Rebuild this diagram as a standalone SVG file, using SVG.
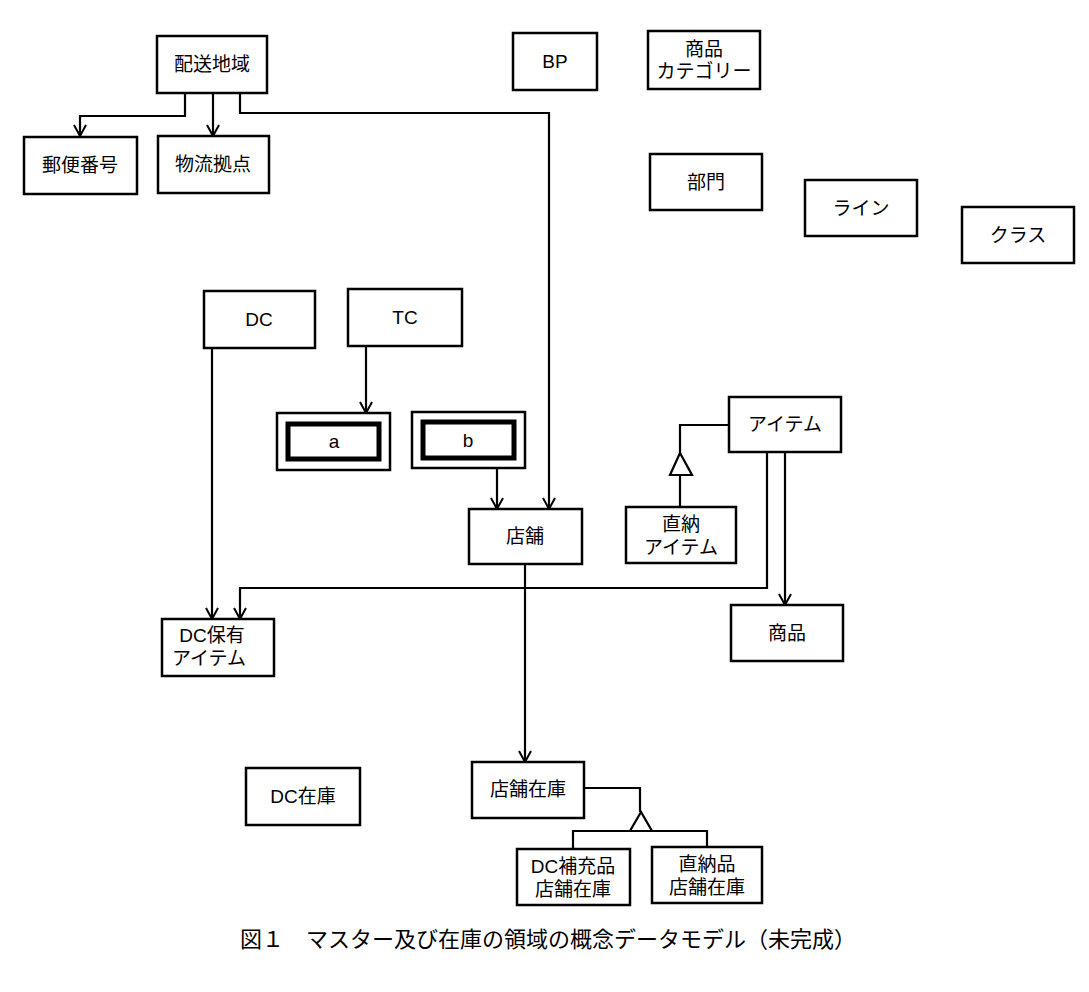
<svg xmlns="http://www.w3.org/2000/svg" width="1089" height="992" viewBox="0 0 1089 992">
<defs>
<marker id="ar" viewBox="0 0 14 14" refX="13" refY="7" markerWidth="14" markerHeight="14" markerUnits="userSpaceOnUse" orient="auto">
<path d="M2,1 L13,7 L2,13" fill="none" stroke="#000" stroke-width="2"/>
</marker>
</defs>
<style>
rect{fill:#fff;stroke:#000;stroke-width:2.5}
rect.in{stroke-width:5}
text{font-family:"Liberation Sans","Noto Sans CJK JP",sans-serif;font-size:19px;text-anchor:middle;fill:#000}
.c path,.c line{fill:none;stroke:#000;stroke-width:2.2}
.c polygon{fill:#fff;stroke:#000;stroke-width:2.2}
</style>
<rect width="1089" height="992" style="fill:#fff;stroke:none"/>
<g class="c">
<path d="M185,93 V116 H80 V136" marker-end="url(#ar)"/>
<path d="M213,93 V136" marker-end="url(#ar)"/>
<path d="M240,93 V113 H549 V509" marker-end="url(#ar)"/>
<path d="M366,346 V413" marker-end="url(#ar)"/>
<path d="M497,468 V509" marker-end="url(#ar)"/>
<path d="M212,348 V619" marker-end="url(#ar)"/>
<path d="M767,452 V588 H240 V619" marker-end="url(#ar)"/>
<path d="M785,452 V605" marker-end="url(#ar)"/>
<path d="M729,425 H680 V453"/>
<polygon points="680,453 670,475 692,475"/>
<path d="M680,475 V507"/>
<path d="M525,564 V762" marker-end="url(#ar)"/>
<path d="M584,788 H640 V812"/>
<polygon points="641,812 630,831 652,831"/>
<path d="M573,848 V831 H707 V848"/>
</g>
<g id="haiso"><rect x="157" y="36" width="110" height="57"/><text x="212" y="71">配送地域</text></g>
<g id="yubin"><rect x="24" y="137" width="113" height="57"/><text x="80" y="172">郵便番号</text></g>
<g id="butsuryu"><rect x="158" y="136" width="111" height="57"/><text x="213" y="171">物流拠点</text></g>
<g id="bp"><rect x="513" y="33" width="84" height="57"/><text x="555" y="68">BP</text></g>
<g id="cat"><rect x="648" y="31" width="112" height="58"/><text x="704" y="56">商品</text><text x="704" y="78">カテゴリー</text></g>
<g id="bumon"><rect x="650" y="154" width="112" height="56"/><text x="706" y="189">部門</text></g>
<g id="line"><rect x="805" y="180" width="112" height="56"/><text x="861" y="215">ライン</text></g>
<g id="class"><rect x="962" y="207" width="112" height="56"/><text x="1018" y="242">クラス</text></g>
<g id="dc"><rect x="204" y="291" width="111" height="57"/><text x="259" y="326">DC</text></g>
<g id="tc"><rect x="348" y="289" width="114" height="57"/><text x="405" y="324">TC</text></g>
<g id="a"><rect x="277" y="413" width="113" height="57"/><rect class="in" x="288" y="424" width="91" height="35"/><text x="334" y="448">a</text></g>
<g id="b"><rect x="412" y="412" width="113" height="56"/><rect class="in" x="423" y="422" width="91" height="36"/><text x="468" y="447">b</text></g>
<g id="tenpo"><rect x="469" y="509" width="113" height="55"/><text x="525" y="543">店舗</text></g>
<g id="item"><rect x="729" y="397" width="112" height="55"/><text x="785" y="431">アイテム</text></g>
<g id="chokuitem"><rect x="626" y="507" width="110" height="56"/><text x="681" y="531">直納</text><text x="681" y="554">アイテム</text></g>
<g id="dchoyu"><rect x="162" y="619" width="112" height="57"/><text x="212" y="642">DC保有</text><text x="209" y="665">アイテム</text></g>
<g id="shohin"><rect x="731" y="605" width="112" height="56"/><text x="787" y="640">商品</text></g>
<g id="dczaiko"><rect x="246" y="768" width="114" height="57"/><text x="303" y="803">DC在庫</text></g>
<g id="tenzaiko"><rect x="472" y="762" width="112" height="56"/><text x="528" y="796">店舗在庫</text></g>
<g id="dchoju"><rect x="517" y="849" width="113" height="56"/><text x="573" y="873">DC補充品</text><text x="573" y="896">店舗在庫</text></g>
<g id="chokuzaiko"><rect x="652" y="847" width="110" height="56"/><text x="707" y="871">直納品</text><text x="707" y="894">店舗在庫</text></g>
<text x="548" y="947" style="font-size:22px">図１　マスター及び在庫の領域の概念データモデル（未完成）</text>
</svg>
